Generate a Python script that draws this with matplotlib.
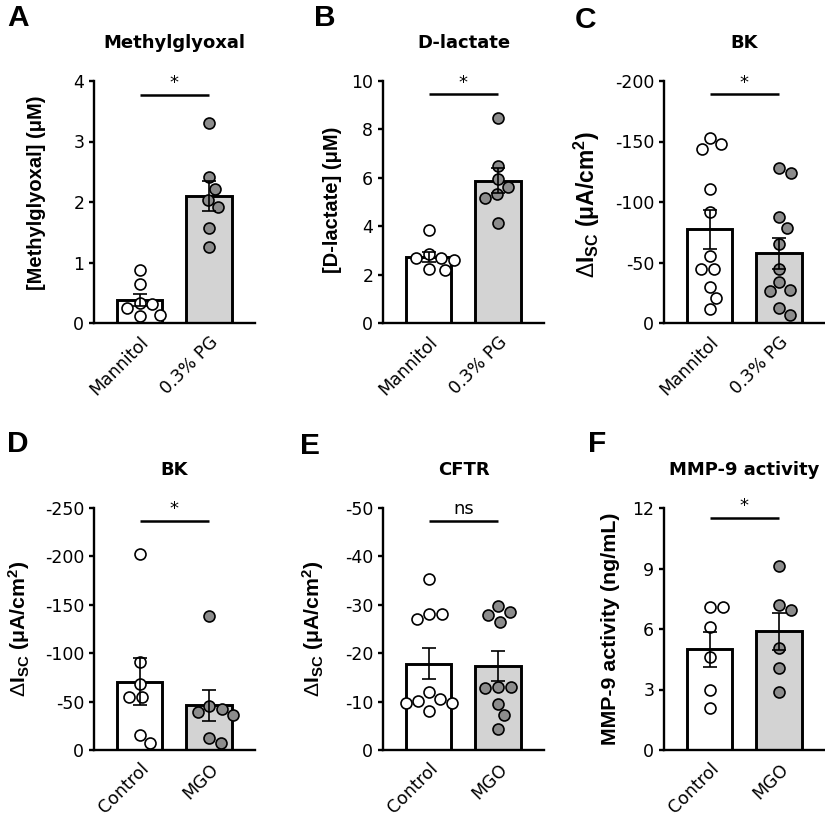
import numpy as np
import matplotlib
matplotlib.use('Agg')
import matplotlib.pyplot as plt
from matplotlib.transforms import ScaledTranslation

plt.rcParams['font.family'] = 'DejaVu Sans'
plt.rcParams['axes.unicode_minus'] = False
plt.rcParams['mathtext.fontset'] = 'custom'
plt.rcParams['mathtext.rm'] = 'Liberation Sans'
plt.rcParams['mathtext.bf'] = 'Liberation Sans:bold'
plt.rcParams['mathtext.it'] = 'Liberation Sans:italic'

# Values (BK / CFTR currents are negative deflections)
mgo_mannitol = [0.87, 0.64, 0.31, 0.33, 0.25, 0.11, 0.14]
mgo_pg = [3.31, 2.41, 2.22, 2.04, 1.91, 1.57, 1.25]
dlac_mannitol = [3.86, 2.69, 2.69, 2.87, 2.62, 2.18, 2.25]
dlac_pg = [8.46, 6.50, 5.60, 5.94, 5.31, 5.17, 4.15]
bk_mannitol = [-152.6, -143.7, -147.9, -110.6, -91.9, -55.2, -45.0, -45.0, -29.8, -20.7, -11.3]
bk_pg = [-124.1, -127.7, -87.2, -78.6, -65.7, -45.0, -33.9, -27.6, -26.5, -12.7, -6.3]
bk_control = [-202.2, -90.4, -68.1, -55.0, -55.0, -15.5, -7.6]
bk_mgo = [-138.2, -39.6, -36.4, -42.6, -45.7, -12.0, -7.6]
cftr_control = [-35.3, -27.0, -28.0, -28.1, -11.9, -10.2, -9.8, -9.8, -10.5, -8.1]
cftr_mgo = [-27.9, -28.6, -29.7, -26.5, -13.1, -12.9, -13.1, -9.6, -7.2, -4.3]
mmp_control = [7.07, 7.07, 6.11, 4.62, 2.97, 2.10]
mmp_mgo = [9.11, 7.18, 6.96, 5.07, 4.08, 2.89]

groups_pg = ['Mannitol', '0.3% PG']
groups_mgo = ['Control', 'MGO']

isc_label = r'$\Delta\mathbf{I}_{\mathbf{SC}}$ (μA/cm$^{\mathbf{2}}$)'

panels = [
    dict(letter='A', title='Methylglyoxal', data=[mgo_mannitol, mgo_pg], groups=groups_pg,
         ylabel='[Methylglyoxal] (μM)', ylim=(0, 4), yticks=[0, 1, 2, 3, 4], sig='*', sig_y=3.77),
    dict(letter='B', title='D-lactate', data=[dlac_mannitol, dlac_pg], groups=groups_pg,
         ylabel='[D-lactate] (μM)', ylim=(0, 10), yticks=[0, 2, 4, 6, 8, 10], sig='*', sig_y=9.45),
    dict(letter='C', title='BK', data=[bk_mannitol, bk_pg], groups=groups_pg,
         ylabel=isc_label, ylim=(0, -200), yticks=[0, -50, -100, -150, -200], sig='*', sig_y=-189),
    dict(letter='D', title='BK', data=[bk_control, bk_mgo], groups=groups_mgo,
         ylabel=isc_label, ylim=(0, -250), yticks=[0, -50, -100, -150, -200, -250], sig='*', sig_y=-237),
    dict(letter='E', title='CFTR', data=[cftr_control, cftr_mgo], groups=groups_mgo,
         ylabel=isc_label, ylim=(0, -50), yticks=[0, -10, -20, -30, -40, -50], sig='ns', sig_y=-47.3),
    dict(letter='F', title='MMP-9 activity', data=[mmp_control, mmp_mgo], groups=groups_mgo,
         ylabel='MMP-9 activity (ng/mL)', ylim=(0, 12), yticks=[0, 3, 6, 9, 12], sig='*', sig_y=11.5),
]

W, H = 825, 824
fig = plt.figure(figsize=(W / 100, H / 100), dpi=100)

ax_left = [94, 383, 664]
ax_top = [81, 508]
ax_w, ax_h = 161, 242
ylabel_dx = [57, 50, 77, 75, 70, 54]
ylabel_y = [0.54, 0.51, 0.49, 0.5, 0.5, 0.5]
ylabel_size = [14.5, 14.5, 16.5, 15.3, 15.3, 15.4]
letter_xy = [(18, 18), (325, 18), (585, 20), (18, 444), (310, 446), (597, 444)]

xlim = (-0.655, 1.66)
bar_w = 0.65
dot_d = 13.0  # dot spacing in px
fills = ['white', '#d3d3d3']
dot_fc = ['white', '#8c8c8c']


def swarm(vals, px_per_y, px_per_x):
    # simple beeswarm: place each dot as close to centre as possible
    order = np.argsort(-np.abs(vals))
    placed = []
    offs = np.zeros(len(vals))
    for i in order:
        y = vals[i] * px_per_y
        blocked = []
        for (xp, yp) in placed:
            dy = abs(y - yp)
            if dy < dot_d:
                hw = np.sqrt(dot_d ** 2 - dy ** 2)
                blocked.append((xp - hw, xp + hw))
        cands = [0.0] + [b[0] for b in blocked] + [b[1] for b in blocked]
        cands = sorted(cands, key=lambda c: (abs(c), -c))
        for c in cands:
            if all(not (lo + 1e-6 < c < hi - 1e-6) for lo, hi in blocked):
                offs[i] = c
                break
        placed.append((offs[i], y))
    return offs / px_per_x


for k, p in enumerate(panels):
    col, row = k % 3, k // 3
    left = ax_left[col] / W
    bottom = 1 - (ax_top[row] + ax_h) / H
    ax = fig.add_axes([left, bottom, ax_w / W, ax_h / H])

    px_per_y = ax_h / abs(p['ylim'][1] - p['ylim'][0])
    px_per_x = ax_w / (xlim[1] - xlim[0])

    for g, vals in enumerate(p['data']):
        vals = np.array(vals)
        mean = vals.mean()
        sem = vals.std(ddof=1) / np.sqrt(len(vals))
        ax.bar(g, mean, width=bar_w, color=fills[g], edgecolor='black', linewidth=2.1, zorder=1)
        xs = g + swarm(vals, px_per_y, px_per_x)
        ax.plot(xs, vals, 'o', ms=7.9, mfc=dot_fc[g], mec='black', mew=1.2, zorder=3)
        ax.errorbar(g, mean, yerr=sem, color='black', capsize=4.8, capthick=1.2, elinewidth=1.2, zorder=4)

    ax.plot([0, 1], [p['sig_y'], p['sig_y']], color='black', lw=1.8, solid_capstyle='butt')
    ax.annotate(p['sig'], (0.5, p['sig_y']), xytext=(0, 2), textcoords='offset points',
                ha='center', va='bottom', fontsize=13)

    ax.set_xlim(*xlim)
    ax.set_ylim(*p['ylim'])
    ax.set_yticks(p['yticks'])
    ax.set_xticks([0, 1])
    ax.set_xticklabels(p['groups'], rotation=45, ha='right', va='top', rotation_mode='anchor')
    for lab in ax.get_xticklabels():
        lab.set_transform(lab.get_transform() + ScaledTranslation(5 / 72, 0, fig.dpi_scale_trans))
    ax.tick_params(axis='x', length=0, pad=7, labelsize=12.5)
    ax.tick_params(axis='y', length=3.5, width=1.7, pad=3.5, labelsize=12.5)
    for s in ['top', 'right']:
        ax.spines[s].set_visible(False)
    for s in ['left', 'bottom']:
        ax.spines[s].set_linewidth(1.7)

    ax.text(0.5, 1 + 38 / ax_h, p['title'], transform=ax.transAxes, ha='center', va='center',
            fontsize=13, fontweight='bold')
    ax.text(-ylabel_dx[k] / ax_w, ylabel_y[k], p['ylabel'], transform=ax.transAxes, rotation=90,
            ha='center', va='center', fontsize=ylabel_size[k], fontweight='bold',
            family='Liberation Sans')
    lx, ly = letter_xy[k]
    fig.text(lx / W, 1 - ly / H, p['letter'], ha='center', va='center', fontsize=21.5,
             fontweight='bold', family='Liberation Sans')

fig.savefig('out.png', dpi=100)
